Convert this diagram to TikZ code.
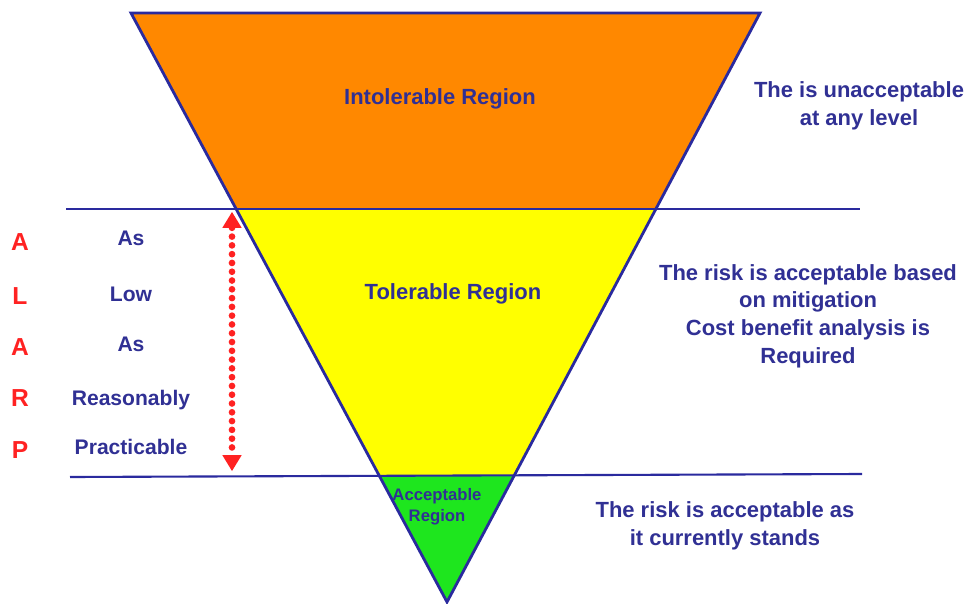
\documentclass[tikz,border=0pt]{standalone}
\usepackage{fontspec}
\setmainfont{Liberation Sans}
\usetikzlibrary{calc,arrows.meta}
\definecolor{navy}{HTML}{2A2A9E}
\definecolor{txtblue}{HTML}{303094}
\definecolor{riskorange}{HTML}{FF8800}
\definecolor{riskyellow}{HTML}{FFFF00}
\definecolor{riskgreen}{HTML}{1EE61E}
\definecolor{alarpred}{HTML}{FF2222}

\begin{document}
\begin{tikzpicture}
    [x=0.02cm,y=-0.02cm,
     region/.style={font=\bfseries\fontsize{12.5}{15}\selectfont,text=txtblue,align=center},
     small region/.style={font=\bfseries\fontsize{9.5}{12}\selectfont,text=txtblue,align=center},
     note/.style={font=\bfseries\fontsize{12.5}{15.7}\selectfont,text=txtblue,align=center},
     letter/.style={font=\bfseries\fontsize{14}{16}\selectfont,text=alarpred},
     word/.style={font=\bfseries\fontsize{12}{14}\selectfont,text=txtblue},
     band/.style={draw=navy,line width=1.2pt},
     alarp arrow/.style={draw=alarpred,line width=3.8pt,line cap=round,
       dash pattern=on 0pt off 5pt,
       {Triangle[length=9pt,width=11pt,line width=0pt]}-{Triangle[length=9pt,width=11pt,line width=0pt]}}]
    \useasboundingbox (0,0) rectangle (969,604);
    \coordinate (tl) at (131,13);
    \coordinate (tr) at (760,13);
    \coordinate (apex) at (447,602);
    \coordinate (l1) at ($(tl)!0.3328!(apex)$);
    \coordinate (r1) at ($(tr)!0.3328!(apex)$);
    \coordinate (l2) at ($(tl)!0.786!(apex)$);
    \coordinate (r2) at ($(tr)!0.786!(apex)$);
    \fill[riskorange] (tl) -- (tr) -- (r1) -- (l1) -- cycle;
    \fill[riskyellow] (l1) -- (r1) -- (r2) -- (l2) -- cycle;
    \fill[riskgreen] (l2) -- (r2) -- (apex) -- cycle;
    \coordinate (b1w) at (66,209);
    \coordinate (b1e) at (860,209);
    \coordinate (b2w) at (70,477);
    \coordinate (b2e) at (862,474);
    \draw[band] (b1w) -- (b1e);
    \draw[band] (b2w) -- (b2e);
    \draw[navy,line width=1.6pt,line join=miter] (tl) -- (tr) -- (apex) -- cycle;
    \node[region] (intol) at (440,99) {Intolerable Region};
    \node[region] (tol) at (453,294) {Tolerable Region};
    \node[small region] (accept) at (437,507) {Acceptable\\Region};
    \node[note] (intolnote) at (859,106) {The is unacceptable\\at any level};
    \node[note] (tolnote) at (808,316) {The risk is acceptable based\\on mitigation\\Cost benefit analysis is\\Required};
    \node[note] (acceptnote) at (725,526) {The risk is acceptable as\\it currently stands};
    \foreach \l/\ly/\w/\wy [count=\i] in {A/242/As/238,L/296/Low/294,A/347/As/344,R/398/Reasonably/400,P/450/Practicable/447}
      {
        \node[letter] (letter\i) at (20,\ly) {\l};
        \node[word] (word\i) at (131,\wy) {\w};
      }
    \coordinate (arrtop) at (232,212);
    \coordinate (arrbot) at (232,471);
    \draw[alarp arrow] (arrtop) -- (arrbot);
  \end{tikzpicture}
\end{document}
